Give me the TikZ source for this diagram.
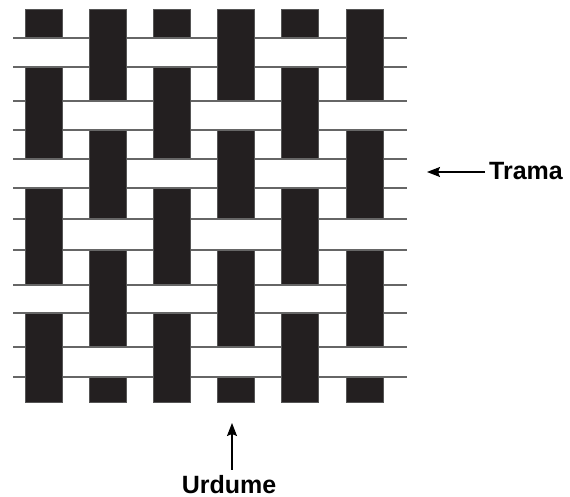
\documentclass[tikz,border=0pt]{standalone}
\usepackage{fontspec}
\setmainfont{Liberation Sans}
\usetikzlibrary{arrows.meta}
\definecolor{warpblack}{HTML}{231F20}
\definecolor{lineGray}{HTML}{666666}
\definecolor{edgeGray}{HTML}{555555}
\begin{document}
\begin{tikzpicture}[x=1pt,y=-1pt,
  warp/.style={fill=warpblack, draw=edgeGray, line width=0.8pt},
  weftline/.style={draw=lineGray, line width=1.4pt},
  patch/.style={fill=white},
  lbl/.style={font=\bfseries\fontsize{25}{25}\selectfont, inner sep=0pt},
  arr/.style={draw=black, line width=1.1pt, -{Stealth[length=13pt,width=10pt,inset=2pt]}}]
\path[use as bounding box] (0,0) rectangle (570,497);
% weft edge lines (full width)
\foreach \t/\b in {38/67,101/130,159/188,219/250,285/313,347/377}{
  \draw[weftline] (13,\t) -- (407,\t);
  \draw[weftline] (13,\b) -- (407,\b);
}
% warp yarns
\foreach \xl in {25,89.2,153.4,217.6,281.8,346}{
  \draw[warp] (\xl,9) rectangle ++(37,393);
}
% weft over warp crossings
\foreach \t/\b/\p in {38/67/0,101/130/1,159/188/0,219/250/1,285/313/0,347/377/1}{
  \foreach \i in {0,...,5}{
    \pgfmathtruncatemacro{\under}{mod(\i+\p,2)==0 ? 1 : 0}
    \ifnum\under=1
      \pgfmathsetmacro{\xl}{25+64.2*\i}
      \fill[patch] (\xl-1,\t) rectangle (\xl+38,\b);
      \draw[weftline] (\xl-1.5,\t) -- (\xl+38.5,\t);
      \draw[weftline] (\xl-1.5,\b) -- (\xl+38.5,\b);
    \fi
  }
}
% labels and arrows
\coordinate (tt) at (427,172);
\node[lbl, anchor=base west] (trama) at (489,180) {Trama};
\draw[arr] ([xshift=-4pt]tt -| trama.west) -- (tt);
\coordinate (ut) at (232,423);
\node[lbl, anchor=base] (urdume) at (229,493) {Urdume};
\draw[arr] ([yshift=5pt]urdume.north -| ut) -- (ut);
\end{tikzpicture}
\end{document}
